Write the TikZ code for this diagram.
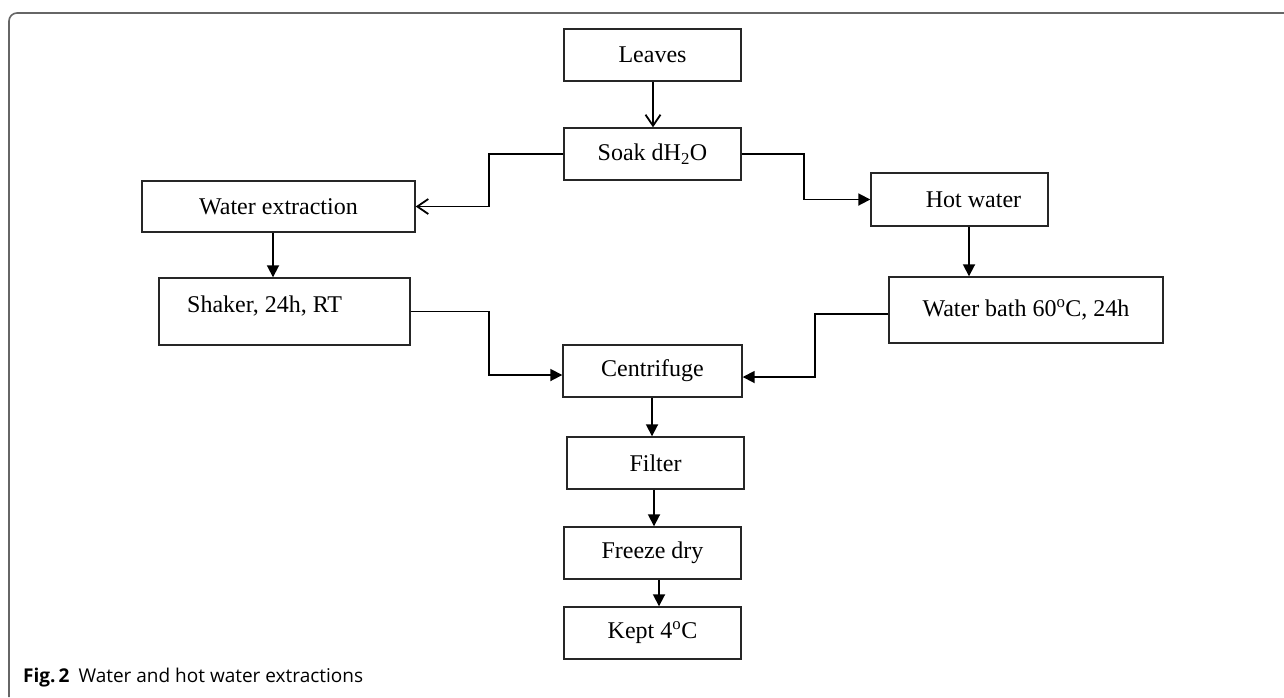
\documentclass[tikz,border=0pt]{standalone}
\usepackage{fontspec}
\setmainfont{Liberation Serif}
\newfontfamily\capfont{Open Sans}
\usetikzlibrary{arrows.meta}
\begin{document}
\begin{tikzpicture}[x=1pt,y=-1pt,
  box/.style={draw=black!85, line width=1.4pt, inner sep=0pt, minimum width=177pt, minimum height=52pt, font=\fontsize{24}{28}\selectfont},
  txt/.style={inner sep=0pt, font=\fontsize{24}{28}\selectfont},
  conn/.style={line width=1.8pt, -{Triangle[length=12pt,width=12pt]}},
  openconn/.style={line width=1.8pt, -{Straight Barb[length=11pt,width=15pt,line width=1.8pt]}},
  frame/.style={draw=black!60, line width=1.6pt, rounded corners=8pt}]
\useasboundingbox (0,0) rectangle (1284,697);
\fill[white] (0,0) rectangle (1284,697);
\draw[frame] (9,697) -- (9,13) -- (1284,13);

\node[box] (leaves) at (652.5,55) {Leaves};
\node[box] (soak) at (652.5,154) {Soak dH\textsubscript{2}O};
\node[box, minimum width=273pt, minimum height=51pt] (water) at (278.5,206.5) {Water extraction};
\node[box, minimum width=251pt, minimum height=67pt] (shaker) at (284.5,311.5) {};
\node[txt, anchor=west] (shakertxt) at (187,306) {Shaker, 24h, RT};
\node[box, minimum height=53pt] (hot) at (959.5,199.5) {\hspace*{28pt}Hot water};
\node[box, minimum width=274pt, minimum height=66pt] (bath) at (1026,310) {Water bath 60\textsuperscript{o}C, 24h};
\node[box, minimum width=179pt] (centrifuge) at (652.5,371) {Centrifuge};
\node[box] (filter) at (655.5,463) {Filter};
\node[box] (freeze) at (652.5,553) {Freeze dry};
\node[box] (kept) at (652.5,633) {Kept 4\textsuperscript{o}C};

\draw[openconn] (653,0 |- leaves.south) -- (653,0 |- soak.north);
\draw[openconn] (soak.west) -- (489,154) |- (water.east);
\draw[conn] (soak.east) -- (804,154) |- (hot.west);
\draw[conn] (273,0 |- water.south) -- (273,0 |- shaker.north);
\draw[conn] (969,0 |- hot.south) -- (969,0 |- bath.north);
\draw[conn] (shaker.east) -- (489,311.5) |- ([yshift=-4pt]centrifuge.west);
\draw[conn] ([yshift=-4pt]bath.west) -- (815,314) |- ([yshift=-6pt]centrifuge.east);
\draw[conn] (652,0 |- centrifuge.south) -- (652,0 |- filter.north);
\draw[conn] (654,0 |- filter.south) -- (654,0 |- freeze.north);
\draw[conn] (659,0 |- freeze.south) -- (659,0 |- kept.north);

\node[anchor=base west, inner sep=0pt, font=\capfont\fontsize{19}{22}\selectfont] (caption) at (23,682) {\textbf{Fig.\,2}\hspace{9pt}Water and hot water extractions};
\end{tikzpicture}
\end{document}
